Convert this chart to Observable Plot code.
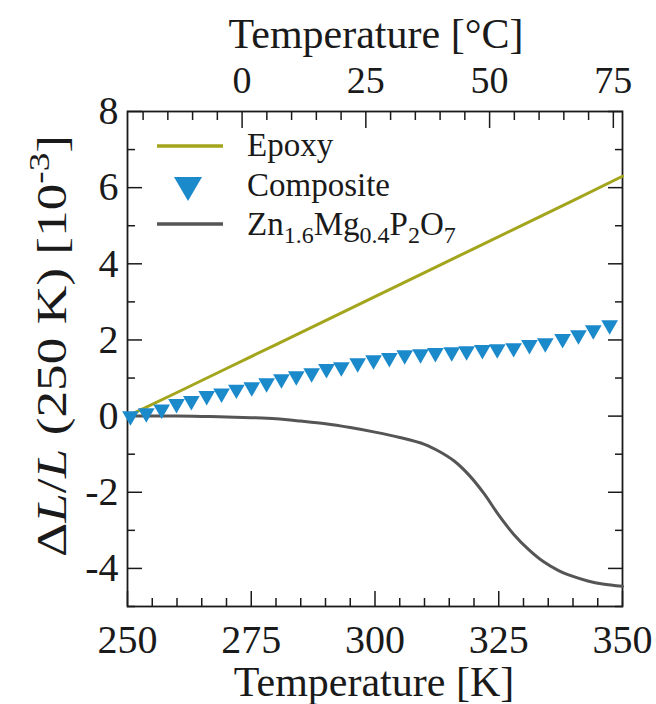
<!DOCTYPE html>
<html>
<head>
<meta charset="utf-8">
<script src="https://cdn.jsdelivr.net/npm/d3@7"></script>
<script src="https://cdn.jsdelivr.net/npm/@observablehq/plot@0.6"></script>
<style>
  html, body { margin: 0; padding: 0; background: #fff; }
  #chart svg { display: block; }
</style>
</head>
<body>
<div id="chart"></div>
<script>
// ---- data ----
const epoxyT = [250, 260, 270, 280, 290, 300, 310, 320, 330, 340, 350];
const epoxyV = [0, 0.62, 1.25, 1.88, 2.51, 3.14, 3.77, 4.40, 5.03, 5.66, 6.30];

const compT = [250.6, 253.8, 256.9, 259.9, 262.9, 266.0, 269.0, 272.0, 275.1, 278.1,
               281.1, 284.1, 287.2, 290.2, 293.2, 296.5, 299.7, 302.9, 306.0, 309.2,
               312.2, 315.5, 318.5, 321.7, 324.7, 328.0, 331.2, 334.4, 337.9, 341.1,
               344.1, 347.4];
const compV = [0.00, 0.08, 0.18, 0.32, 0.40, 0.53, 0.60, 0.70, 0.76, 0.87,
               0.97, 1.05, 1.13, 1.24, 1.29, 1.39, 1.47, 1.53, 1.60, 1.63,
               1.66, 1.68, 1.71, 1.74, 1.76, 1.79, 1.87, 1.92, 2.03, 2.13,
               2.26, 2.39];

const znT = [250, 255, 260, 265, 270, 275, 280, 285, 290, 295, 300, 305, 310, 313,
             316, 319, 322, 325, 328, 331, 334, 337, 340, 343, 346, 350];
const znV = [0, 0, 0, -0.01, -0.02, -0.04, -0.07, -0.13, -0.20, -0.30, -0.42, -0.56,
             -0.74, -0.93, -1.18, -1.55, -2.03, -2.60, -3.10, -3.50, -3.82, -4.05,
             -4.21, -4.33, -4.41, -4.47];

const xMajor = [250, 275, 300, 325, 350];
const xMinor = [255, 260, 265, 270, 280, 285, 290, 295, 305, 310, 315, 320, 330, 335, 340, 345];
const cMajor = [0, 25, 50, 75];
const cMinor = [-20, -15, -10, -5, 5, 10, 15, 20, 30, 35, 40, 45, 55, 60, 65, 70];
const yMajor = [-4, -2, 0, 2, 4, 6, 8];
const yMinor = [-5, -3, -1, 1, 3, 5, 7];

const colors = { epoxy: "#a3a51c", comp: "#1b8acb", zn: "#555555" };
const legendLabels = ["Epoxy", "Composite", "Zn1.6Mg0.4P2O7"];

const epoxy = epoxyT.map((t, i) => ({ t, v: epoxyV[i] }));
const comp = compT.map((t, i) => ({ t, v: compV[i] }));
const zn = znT.map((t, i) => ({ t, v: znV[i] }));
const K0 = 273.15;

const triDown = {
  draw(ctx, size) {
    const s = Math.sqrt(size / (Math.sqrt(3) / 4));
    const h = s * Math.sqrt(3) / 2;
    ctx.moveTo(-s / 2, -h / 3);
    ctx.lineTo(s / 2, -h / 3);
    ctx.lineTo(0, 2 * h / 3);
    ctx.closePath();
  }
};

const ink = "#1a1a1a";
const tickCommon = { stroke: ink, strokeWidth: 1.5, tickFormat: () => "", label: null };

const plot = Plot.plot({
  width: 656,
  height: 704,
  marginLeft: 127,
  marginRight: 34,
  marginTop: 111,
  marginBottom: 98,
  x: { domain: [250, 350] },
  y: { domain: [-5, 8] },
  style: { fontFamily: "'Liberation Serif', 'Times New Roman', serif", background: "#fff", color: ink },
  marks: [
    // bottom axis
    Plot.axisX(xMinor, { anchor: "bottom", tickSize: -8, ...tickCommon }),
    Plot.axisX(xMajor, { anchor: "bottom", tickSize: -15, ...tickCommon }),
    Plot.axisX(xMajor, { anchor: "bottom", tickSize: 0, tickPadding: 18, fontSize: 40,
                         tickFormat: d => String(d), label: null, stroke: "none" }),
    // top axis in °C
    Plot.axisX(cMinor.map(c => c + K0), { anchor: "top", tickSize: -8, ...tickCommon }),
    Plot.axisX(cMajor.map(c => c + K0), { anchor: "top", tickSize: -16, ...tickCommon }),
    Plot.axisX(cMajor.map(c => c + K0), { anchor: "top", tickSize: 0, tickPadding: 19, fontSize: 38,
                         tickFormat: d => String(Math.round(d - K0)), label: null, stroke: "none" }),
    // left axis
    Plot.axisY(yMinor, { anchor: "left", tickSize: -8, ...tickCommon }),
    Plot.axisY(yMajor, { anchor: "left", tickSize: -15, ...tickCommon }),
    Plot.axisY(yMajor, { anchor: "left", tickSize: 0, tickPadding: 9, fontSize: 40,
                         tickFormat: d => String(d), label: null, stroke: "none" }),
    // right axis
    Plot.axisY(yMinor, { anchor: "right", tickSize: -8, ...tickCommon }),
    Plot.axisY(yMajor, { anchor: "right", tickSize: -15, ...tickCommon }),
    Plot.frame({ stroke: ink, strokeWidth: 1.8 }),
    // data
    Plot.line(epoxy, { x: "t", y: "v", stroke: colors.epoxy, strokeWidth: 3 }),
    Plot.line(zn, { x: "t", y: "v", stroke: colors.zn, strokeWidth: 3, curve: "catmull-rom" }),
    Plot.dot(comp, { x: "t", y: "v", symbol: triDown, r: 6.2, fill: colors.comp, stroke: "none" })
  ]
});

document.getElementById("chart").appendChild(plot);

// ---- titles and legend with rich text ----
const svg = d3.select(plot);
const font = "'Liberation Serif', 'Times New Roman', serif";

svg.append("text")
  .attr("x", 374).attr("y", 696)
  .attr("text-anchor", "middle").attr("font-family", font).attr("font-size", 42).attr("fill", ink)
  .text("Temperature [K]");

svg.append("text")
  .attr("x", 376).attr("y", 48)
  .attr("text-anchor", "middle").attr("font-family", font).attr("font-size", 42).attr("fill", ink)
  .text("Temperature [°C]");

const yt = svg.append("text")
  .attr("transform", "translate(66,346) rotate(-90) scale(1.24,1)")
  .attr("text-anchor", "middle").attr("font-family", font).attr("font-size", 43).attr("fill", ink);
yt.append("tspan").text("Δ");
yt.append("tspan").attr("font-style", "italic").text("L");
yt.append("tspan").text("/");
yt.append("tspan").attr("font-style", "italic").text("L");
yt.append("tspan").text(" (250 K) [10");
yt.append("tspan").attr("font-size", 30).attr("dy", -17).text("-3");
yt.append("tspan").attr("dy", 17).text("]");

// legend
const lg = svg.append("g").attr("font-family", font).attr("font-size", 33).attr("fill", ink)
  .attr("text-anchor", "start");
lg.append("line").attr("x1", 157).attr("x2", 223).attr("y1", 146).attr("y2", 146)
  .attr("stroke", colors.epoxy).attr("stroke-width", 3.5);
lg.append("text").attr("x", 247).attr("y", 156).attr("text-anchor", "start").text(legendLabels[0]);

lg.append("path")
  .attr("d", "M174,177L202,177L188,201Z").attr("fill", colors.comp);
lg.append("text").attr("x", 247).attr("y", 196).attr("text-anchor", "start").text(legendLabels[1]);

lg.append("line").attr("x1", 157).attr("x2", 223).attr("y1", 224).attr("y2", 224)
  .attr("stroke", colors.zn).attr("stroke-width", 3.5);
const zt = lg.append("text").attr("x", 247).attr("y", 235).attr("text-anchor", "start");
[["Zn", false], ["1.6", true], ["Mg", false], ["0.4", true], ["P", false], ["2", true], ["O", false], ["7", true]]
  .forEach(([s, sub], i, arr) => {
    const prevSub = i > 0 && arr[i - 1][1];
    const ts = zt.append("tspan").text(s);
    if (sub) ts.attr("font-size", 24).attr("dy", 8);
    else if (prevSub) ts.attr("dy", -8);
  });
</script>
</body>
</html>
